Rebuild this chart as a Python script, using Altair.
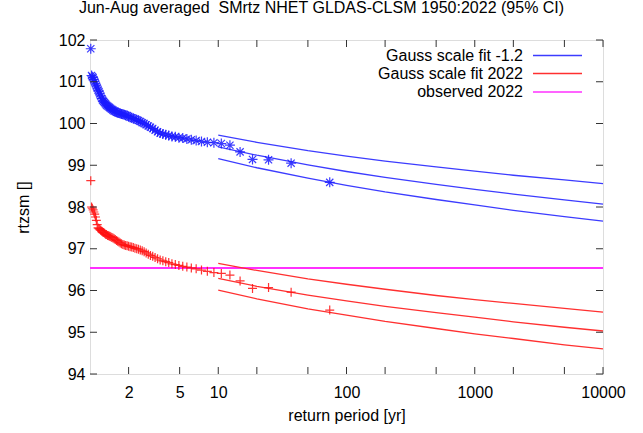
import altair as alt
import pandas as pd

title_text = "Jun-Aug averaged \u00a0SMrtz NHET GLDAS-CLSM 1950:2022 (95% CI)"

# return periods of the observed (ranked) values, years
return_period = [74.0, 37.0, 24.67, 18.5, 14.8, 12.33, 10.57, 9.25, 8.222, 7.4,
                 6.727, 6.167, 5.692, 5.286, 4.933, 4.625, 4.353, 4.111, 3.895, 3.7,
                 3.524, 3.364, 3.217, 3.083, 2.96, 2.846, 2.741, 2.643, 2.552, 2.467,
                 2.387, 2.313, 2.242, 2.176, 2.114, 2.056, 2.0, 1.947, 1.897, 1.85,
                 1.805, 1.762, 1.721, 1.682, 1.644, 1.609, 1.574, 1.542, 1.51, 1.48,
                 1.451, 1.423, 1.396, 1.37, 1.345, 1.321, 1.298, 1.276, 1.254, 1.233,
                 1.213, 1.194, 1.175, 1.156, 1.138, 1.121, 1.104, 1.088, 1.072, 1.057,
                 1.042, 1.028, 1.014]

# observed values shifted to the -1.2 climate (blue stars)
obs_past = [98.59, 99.05, 99.13, 99.14, 99.32, 99.48, 99.52, 99.54, 99.55, 99.57,
            99.59, 99.61, 99.63, 99.65, 99.66, 99.68, 99.69, 99.71, 99.73, 99.75,
            99.77, 99.80, 99.84, 99.88, 99.91, 99.94, 99.97, 100.00, 100.02, 100.05,
            100.07, 100.09, 100.11, 100.12, 100.14, 100.15, 100.17, 100.19, 100.20, 100.21,
            100.22, 100.23, 100.24, 100.25, 100.26, 100.27, 100.29, 100.30, 100.32, 100.34,
            100.36, 100.38, 100.40, 100.42, 100.44, 100.47, 100.50, 100.53, 100.56, 100.60,
            100.66, 100.71, 100.76, 100.80, 100.85, 100.90, 100.95, 101.00, 101.05, 101.10,
            101.12, 101.15, 101.79]

# observed values shifted to the 2022 climate (red pluses)
obs_2022 = [95.53, 95.96, 96.07, 96.05, 96.23, 96.37, 96.41, 96.43, 96.46, 96.49,
            96.52, 96.54, 96.56, 96.58, 96.60, 96.62, 96.64, 96.67, 96.69, 96.71,
            96.73, 96.76, 96.79, 96.82, 96.84, 96.87, 96.90, 96.93, 96.95, 96.97,
            96.99, 97.00, 97.01, 97.03, 97.04, 97.05, 97.06, 97.07, 97.08, 97.09,
            97.10, 97.12, 97.14, 97.16, 97.18, 97.20, 97.22, 97.24, 97.26, 97.27,
            97.29, 97.30, 97.31, 97.32, 97.34, 97.35, 97.37, 97.39, 97.40, 97.42,
            97.44, 97.46, 97.48, 97.50, 97.58, 97.68, 97.76, 97.83, 97.88, 97.93,
            97.97, 98.00, 98.63]

# fitted return levels
fit_period = [10, 20, 50, 100, 200, 500, 1000, 2000, 5000, 10000]
past_hi = [99.72, 99.55, 99.35, 99.22, 99.10, 98.96, 98.86, 98.76, 98.65, 98.56]
past_mid = [99.44, 99.24, 99.01, 98.85, 98.71, 98.54, 98.42, 98.31, 98.17, 98.07]
past_lo = [99.16, 98.94, 98.69, 98.52, 98.36, 98.18, 98.05, 97.92, 97.77, 97.66]
now_hi = [96.65, 96.48, 96.28, 96.15, 96.03, 95.88, 95.78, 95.69, 95.57, 95.48]
now_mid = [96.29, 96.10, 95.89, 95.75, 95.62, 95.47, 95.36, 95.25, 95.12, 95.03]
now_lo = [96.01, 95.80, 95.56, 95.41, 95.26, 95.09, 94.96, 94.85, 94.70, 94.60]

observed_value = 96.54

x_tick_values = [2, 5, 10, 20, 50, 100, 200, 500, 1000, 2000, 5000, 10000]
x_label_values = [2, 5, 10, 100, 1000, 10000]
y_tick_values = [94, 95, 96, 97, 98, 99, 100, 101, 102]

legend_labels = ["Gauss scale fit -1.2", "Gauss scale fit 2022", "observed 2022"]

BLUE = "#1a1aff"
BLUE_LINE = "#3c3cff"
RED = "#ff1010"
RED_LINE = "#ff3030"
MAGENTA = "#ff30ff"
FONT = "Liberation Sans"

W, H = 513, 334

obs_df = pd.DataFrame({"T": return_period, "past": obs_past, "now": obs_2022})

rows = []
for name, vals, grp in [("past_hi", past_hi, "past"), ("past_mid", past_mid, "past"),
                        ("past_lo", past_lo, "past"), ("now_hi", now_hi, "now"),
                        ("now_mid", now_mid, "now"), ("now_lo", now_lo, "now")]:
    for t, v in zip(fit_period, vals):
        rows.append({"T": t, "v": v, "band": name, "grp": grp})
fit_df = pd.DataFrame(rows)

xscale = alt.Scale(type="log", domain=[1, 10000], nice=False)
yscale = alt.Scale(domain=[94, 102], nice=False, zero=False)

x_axis = alt.Axis(values=x_label_values, format="d", ticks=False, domain=False, grid=False,
                  labelFlush=False, labelOverlap=False, labelPadding=10, labelFontSize=16,
                  labelFont=FONT, labelColor="black", title="return period [yr]",
                  titleFontSize=16, titleFont=FONT, titleFontWeight="normal",
                  titleColor="black", titleY=41, titleBaseline="middle")
y_axis = alt.Axis(values=y_tick_values, format="d", ticks=False, domain=False, grid=False,
                  labelPadding=5, labelFontSize=16, labelFont=FONT, labelColor="black",
                  title="rtzsm []", titleFontSize=16, titleFont=FONT,
                  titleFontWeight="normal", titleColor="black", titleX=-67, titleY=167,
                  titleAlign="center", titleBaseline="middle", titleAngle=270)

base_x = alt.X("T:Q", scale=xscale, axis=x_axis)

observed_line = alt.Chart(pd.DataFrame({"v": [observed_value]})).mark_rule(
    color=MAGENTA, strokeWidth=2).encode(
    y=alt.Y("v:Q", scale=yscale, axis=y_axis))

fit_lines = alt.Chart(fit_df).mark_line(strokeWidth=1.3).encode(
    x=base_x,
    y=alt.Y("v:Q", scale=yscale),
    detail="band:N",
    color=alt.Color("grp:N", scale=alt.Scale(domain=["past", "now"], range=[BLUE_LINE, RED_LINE]),
                    legend=None),
)

star_path = "M-1,0L1,0M0,-1L0,1M-0.72,-0.72L0.72,0.72M-0.72,0.72L0.72,-0.72"
plus_path = "M-1,0L1,0M0,-1L0,1"

past_pts = alt.Chart(obs_df).mark_point(shape=star_path, filled=False, size=100,
                                        strokeWidth=1.2, color=BLUE, opacity=0.85).encode(
    x=alt.X("T:Q", scale=xscale), y=alt.Y("past:Q", scale=yscale))
now_pts = alt.Chart(obs_df).mark_point(shape=plus_path, filled=False, size=81,
                                       strokeWidth=1.2, color=RED, opacity=0.85).encode(
    x=alt.X("T:Q", scale=xscale), y=alt.Y("now:Q", scale=yscale))

# inward tick marks on all four sides (gnuplot style)
xt = pd.DataFrame({"T": x_tick_values})
yt = pd.DataFrame({"v": y_tick_values})
tick_style = dict(color="#333333", strokeWidth=1)
ticks_bottom = alt.Chart(xt).mark_rule(**tick_style).encode(
    x=alt.X("T:Q", scale=xscale), y=alt.value(H), y2=alt.value(H - 7))
ticks_top = alt.Chart(xt).mark_rule(**tick_style).encode(
    x=alt.X("T:Q", scale=xscale), y=alt.value(0), y2=alt.value(7))
ticks_left = alt.Chart(yt).mark_rule(**tick_style).encode(
    y=alt.Y("v:Q", scale=yscale), x=alt.value(0), x2=alt.value(7))
ticks_right = alt.Chart(yt).mark_rule(**tick_style).encode(
    y=alt.Y("v:Q", scale=yscale), x=alt.value(W), x2=alt.value(W - 7))

# key in the upper right corner: text on the left, line sample on the right
legend_colors = [BLUE_LINE, RED_LINE, MAGENTA]
legend_rows = [15.5, 33.5, 52]
legend_layers = []
for lab, col, yy in zip(legend_labels, legend_colors, legend_rows):
    legend_layers.append(alt.Chart(pd.DataFrame({"lab": [lab]})).mark_text(
        align="right", baseline="middle", fontSize=16, font=FONT, color="black").encode(
        text="lab:N", x=alt.value(433), y=alt.value(yy)))
    legend_layers.append(alt.Chart(pd.DataFrame({"lab": [lab]})).mark_rule(
        color=col, strokeWidth=1.6).encode(
        x=alt.value(443), x2=alt.value(492), y=alt.value(yy)))

chart = alt.layer(
    observed_line, fit_lines, past_pts, now_pts,
    ticks_bottom, ticks_top, ticks_left, ticks_right,
    *legend_layers,
).properties(
    width=W, height=H,
    title=alt.TitleParams(title_text, fontSize=16, font=FONT, fontWeight="normal",
                          color="black", anchor="middle", dx=-25, offset=16),
    autosize=alt.AutoSizeParams(type="none"),
    padding={"left": 90, "top": 40, "right": 40, "bottom": 59},
).configure_view(stroke="black", strokeWidth=1.5).configure(background="white")

chart.save("out.html", embed_options={"renderer": "svg", "actions": False})
